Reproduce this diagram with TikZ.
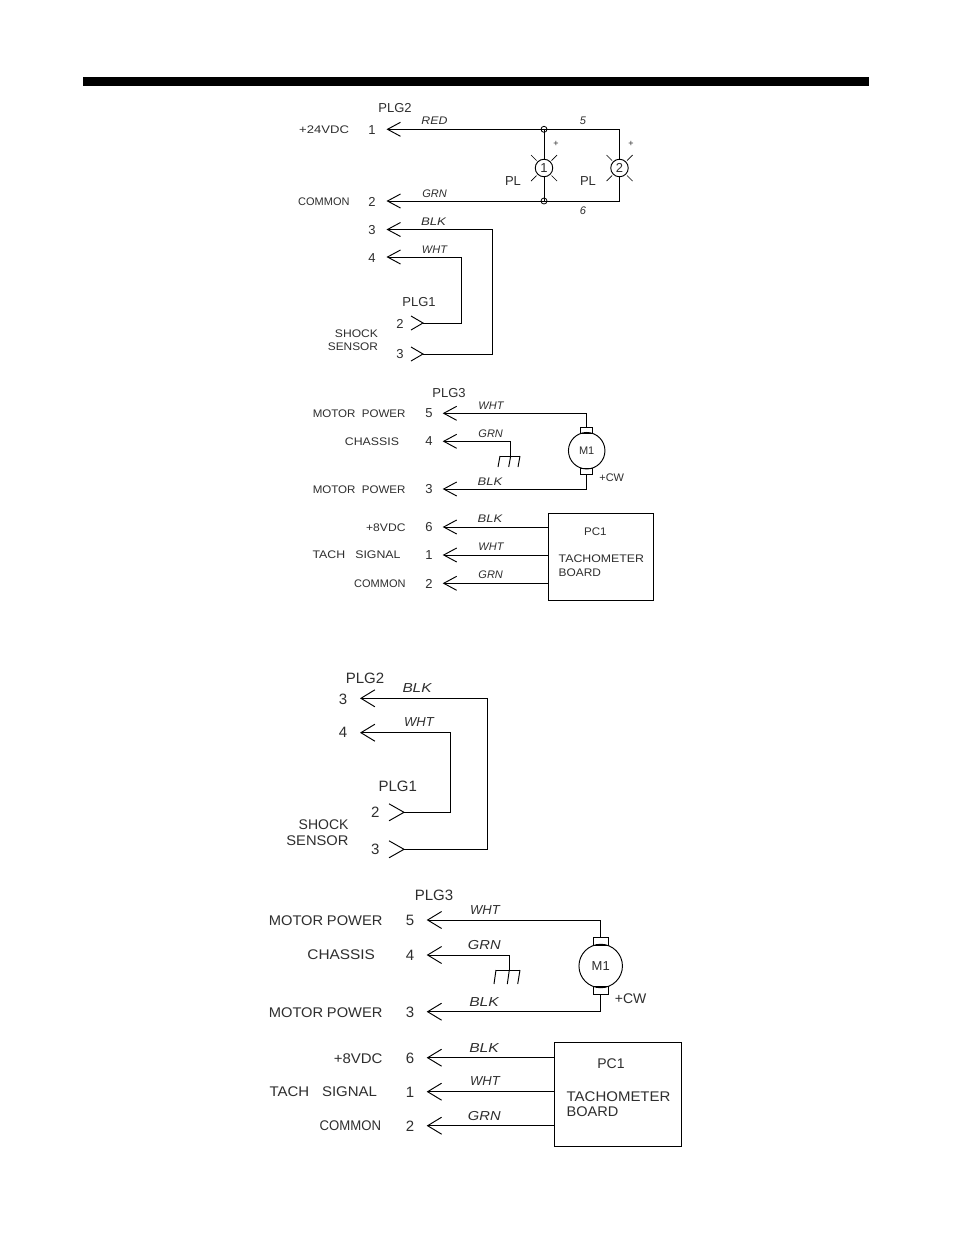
\documentclass[tikz,border=0pt]{standalone}
\usepackage{fontspec}
\usepackage{graphicx}
\setmainfont{Liberation Sans}
\usetikzlibrary{arrows.meta}
\newcommand{\sxw}[2]{\scalebox{#1}[1]{#2}}
\tikzset{
  wire/.style={line width=0.95pt,line join=miter},
  arr/.style={wire,-{Straight Barb[length=13pt,width=14pt,line width=0.95pt]}},
  arrb/.style={wire,-{Straight Barb[length=14pt,width=17pt,line width=0.95pt]}},
  txt/.style={inner sep=0pt,outer sep=0pt,text=black!82,font=\fontsize{#1}{#1}\selectfont},
  txt/.default=11,
  itx/.style={inner sep=0pt,outer sep=0pt,text=black!82,font=\fontsize{#1}{#1}\selectfont\itshape},
  itx/.default=11,
  dotj/.style={circle,draw,line width=0.8pt,minimum size=6pt,inner sep=0pt},
  lamp/.style={circle,draw,line width=0.95pt,minimum size=17.5pt,inner sep=0pt,text=black!82,font=\fontsize{13}{13}\selectfont},
  ray/.style={line width=0.7pt},
  brush/.style={rectangle,draw,line width=0.95pt,inner sep=0pt},
  motor/.style={circle,draw,line width=0.95pt,inner sep=0pt,text=black!82},
  board/.style={rectangle,draw,line width=0.95pt,inner sep=0pt},
  bar/.style={rectangle,fill=black,inner sep=0pt},
}
\begin{document}
\begin{tikzpicture}[x=1pt,y=-1pt]
\useasboundingbox (0,0) rectangle (954,1235);
\fill[white] (0,0) rectangle (954,1235);
\node[bar,anchor=north west,minimum width=786pt,minimum height=8.5pt] (topbar) at (83,77) {};

% ---------- Diagram 1 : lamps and shock sensor (small) ----------
\coordinate (a1) at (386.5,129.3);
\coordinate (a2) at (386.5,201);
\coordinate (a3) at (386.5,229.5);
\coordinate (a4) at (386.5,257);
\coordinate (c1) at (619.5,129.3);
\coordinate (c2) at (619.5,201);
\node[dotj] (j1) at (544,129.3) {};
\node[dotj] (j2) at (544,201) {};
\node[lamp] (L1) at (544,168) {1};
\node[lamp] (L2) at (619.5,168) {2};
\draw[arr] (j1.center) -- (a1);
\draw[arr] (j2.center) -- (a2);
\draw[wire] (j1.center) -- (c1) -- (L2) (L2) -- (c2) -- (j2.center);
\draw[wire] (j1.center) -- (L1) (L1) -- (j2.center);
\foreach \n in {L1,L2}{
  \draw[ray] (\n)+(-7.5,-7.5) -- +(-13,-13);
  \draw[ray] (\n)+(7.5,-7.5) -- +(13,-13);
  \draw[ray] (\n)+(-7.5,7.5) -- +(-13,13);
  \draw[ray] (\n)+(7.5,7.5) -- +(13,13);
}
\coordinate (p2a) at (423,323);
\coordinate (p3a) at (423,354);
\coordinate (k4) at (461.7,257);
\coordinate (k4b) at (461.7,323);
\coordinate (k3) at (492.5,229.5);
\coordinate (k3b) at (492.5,354);
\draw[arr] (p2a) -- (k4b) -- (k4) -- (a4);
\draw[arr] (p3a) -- (k3b) -- (k3) -- (a3);
\draw[wire] (p2a)+(-12,-7) -- (p2a) -- +(-12,7);
\draw[wire] (p3a)+(-12,-7) -- (p3a) -- +(-12,7);
\node[txt=13] (t1) at (395,108) {PLG2};
\node[txt=11,anchor=east] (t2) at (349,130) {\sxw{1.19}{+24VDC}};
\node[txt=13] (t3) at (372,130) {1};
\node[txt=11,anchor=east] (t4) at (349.5,202) {COMMON};
\node[txt=13] (t5) at (372,202) {2};
\node[txt=13] (t6) at (372,230) {3};
\node[txt=13] (t7) at (372,258) {4};
\node[txt=13] (t8) at (419,302) {PLG1};
\node[txt=13] (t9) at (400,324) {2};
\node[txt=13] (t10) at (400,354) {3};
\node[txt=11,anchor=east] (t11) at (378,334) {\sxw{1.1}{SHOCK}};
\node[txt=11,anchor=east] (t12) at (378,347) {\sxw{1.08}{SENSOR}};
\node[txt=13] (t13) at (513,181) {PL};
\node[txt=13] (t14) at (588,181) {PL};
\node[txt=9] (t15) at (556,144) {+};
\node[txt=9] (t16) at (631,144) {+};
\node[itx=11] (t17) at (583,121) {5};
\node[itx=11] (t18) at (583,210.7) {6};
\node[itx=11] (t19) at (434.5,121) {\sxw{1.12}{RED}};
\node[itx=11] (t20) at (434.5,193.7) {GRN};
\node[itx=11] (t21) at (433.5,221.7) {\sxw{1.2}{BLK}};
\node[itx=11] (t22) at (434.5,250) {WHT};

% ---------- Diagram 2 : motor and tachometer (small) ----------
\coordinate (b5) at (442.7,413.3);
\coordinate (b4) at (442.7,441.3);
\coordinate (b3) at (442.7,489);
\coordinate (b6) at (442.7,527);
\coordinate (b1) at (442.7,555);
\coordinate (b2) at (442.7,583.3);
\node[motor,minimum size=36.5pt,font=\fontsize{11}{11}\selectfont] (M) at (586.7,450.7) {M1};
\node[brush,minimum width=11.5pt,minimum height=5.5pt] (Bt) at (586.7,430.3) {};
\node[brush,minimum width=11.5pt,minimum height=6pt] (Bb) at (586.7,471.3) {};
\draw[wire] (Bt) -- (M) (M) -- (Bb);
\coordinate (m5) at (586.7,413.3);
\coordinate (m3) at (586.7,489);
\draw[arr] (Bt) -- (m5) -- (b5);
\draw[arr] (Bb) -- (m3) -- (b3);
\coordinate (g4) at (510.7,441.3);
\coordinate (g) at (510.7,456);
\draw[arr] (g) -- (g4) -- (b4);
\draw[wire] (500,456) -- (520,456);
\draw[wire] (500,456) -- (498,467) (g) -- (508.7,467) (520,456) -- (518,467);
\node[board,anchor=north west,minimum width=105pt,minimum height=86.7pt] (pc) at (547.7,513.3) {};
\draw[arr] (pc.west |- b6) -- (b6);
\draw[arr] (pc.west |- b1) -- (b1);
\draw[arr] (pc.west |- b2) -- (b2);
\node[txt=13] (u1) at (449,392.7) {PLG3};
\node[txt=11,anchor=east] (u2) at (405.5,413.5) {\sxw{1.05}{MOTOR\hspace{6pt}POWER}};
\node[txt=11,anchor=east] (u3) at (399,441.5) {\sxw{1.12}{CHASSIS}};
\node[txt=11,anchor=east] (u4) at (405.5,489.5) {\sxw{1.05}{MOTOR\hspace{6pt}POWER}};
\node[txt=11,anchor=east] (u5) at (405.5,527.5) {\sxw{1.1}{+8VDC}};
\node[txt=11,anchor=east] (u6) at (400.5,555) {\sxw{1.12}{TACH\hspace{9pt}SIGNAL}};
\node[txt=11,anchor=east] (u7) at (405.5,583.7) {COMMON};
\node[txt=13] (u8) at (429,413.5) {5};
\node[txt=13] (u9) at (429,441.5) {4};
\node[txt=13] (u10) at (429,489.5) {3};
\node[txt=13] (u11) at (429,527.5) {6};
\node[txt=13] (u12) at (429,555.5) {1};
\node[txt=13] (u13) at (429,584) {2};
\node[itx=11] (u14) at (491,406) {WHT};
\node[itx=11] (u15) at (490.7,434) {GRN};
\node[itx=11] (u16) at (490,481.7) {\sxw{1.18}{BLK}};
\node[itx=11] (u17) at (490,519) {\sxw{1.18}{BLK}};
\node[itx=11] (u18) at (491,546.7) {WHT};
\node[itx=11] (u19) at (490.7,575) {GRN};
\node[txt=11] (u20) at (611.7,477.3) {+CW};
\node[txt=11] (u21) at (595.3,531.7) {\sxw{1.05}{PC1}};
\node[txt=11,anchor=west] (u22) at (558.7,559) {\sxw{1.12}{TACHOMETER}};
\node[txt=11,anchor=west] (u23) at (558.7,572.7) {\sxw{1.08}{BOARD}};

% ---------- Diagram 3 : shock sensor (large) ----------
\coordinate (d3) at (360,698.3);
\coordinate (d4) at (360,732.7);
\coordinate (q2) at (404,812.3);
\coordinate (q3) at (404,849.3);
\coordinate (e4) at (450.3,732.7);
\coordinate (e4b) at (450.3,812.3);
\coordinate (e3) at (487.3,698.3);
\coordinate (e3b) at (487.3,849.3);
\draw[arrb] (q2) -- (e4b) -- (e4) -- (d4);
\draw[arrb] (q3) -- (e3b) -- (e3) -- (d3);
\draw[wire] (q2)+(-15,-8.5) -- (q2) -- +(-15,8.5);
\draw[wire] (q3)+(-15,-8.5) -- (q3) -- +(-15,8.5);
\node[txt=15] (v1) at (365,678) {PLG2};
\node[txt=15] (v2) at (343,699.3) {3};
\node[txt=15] (v3) at (343,732.7) {4};
\node[itx=13] (v4) at (417,688.3) {\sxw{1.18}{BLK}};
\node[itx=13] (v5) at (419,722.3) {WHT};
\node[txt=15] (v6) at (397.7,786) {PLG1};
\node[txt=15] (v7) at (375.3,812.7) {2};
\node[txt=15] (v8) at (375.3,849.3) {3};
\node[txt=14,anchor=east] (v9) at (348.5,825) {SHOCK};
\node[txt=14,anchor=east] (v10) at (348.5,840.3) {\sxw{1.05}{SENSOR}};

% ---------- Diagram 4 : motor and tachometer (large) ----------
\coordinate (f5) at (426.7,920);
\coordinate (f4) at (426.7,955);
\coordinate (f3) at (426.7,1011.7);
\coordinate (f6) at (426.7,1057.7);
\coordinate (f1) at (426.7,1091.7);
\coordinate (f2) at (426.7,1125.7);
\node[motor,minimum size=43.5pt,font=\fontsize{13}{13}\selectfont] (MM) at (600.7,966) {M1};
\node[brush,minimum width=15pt,minimum height=7.7pt] (Ct) at (600.7,941.2) {};
\node[brush,minimum width=15pt,minimum height=7.7pt] (Cb) at (600.7,990.5) {};
\draw[wire] (Ct) -- (MM) (MM) -- (Cb);
\coordinate (n5) at (600.7,920);
\coordinate (n3) at (600.7,1011.7);
\draw[arrb] (Ct) -- (n5) -- (f5);
\draw[arrb] (Cb) -- (n3) -- (f3);
\coordinate (h4) at (509.3,955);
\coordinate (h) at (509.3,970);
\draw[arrb] (h) -- (h4) -- (f4);
\draw[wire] (496,970) -- (520,970);
\draw[wire] (496,970) -- (494,984) (h) -- (507.3,984) (520,970) -- (517.7,984);
\node[board,anchor=north west,minimum width=126.4pt,minimum height=104pt] (pcc) at (554.3,1041.7) {};
\draw[arrb] (pcc.west |- f6) -- (f6);
\draw[arrb] (pcc.west |- f1) -- (f1);
\draw[arrb] (pcc.west |- f2) -- (f2);
\node[txt=15] (w1) at (434,895) {PLG3};
\node[txt=14,anchor=east] (w2) at (382.5,920.7) {\sxw{1.05}{MOTOR\hspace{3.5pt}POWER}};
\node[txt=14,anchor=east] (w3) at (375,955) {\sxw{1.1}{CHASSIS}};
\node[txt=14,anchor=east] (w4) at (382.5,1012.7) {\sxw{1.05}{MOTOR\hspace{3.5pt}POWER}};
\node[txt=14,anchor=east] (w5) at (382.5,1058.7) {\sxw{1.07}{+8VDC}};
\node[txt=14,anchor=east] (w6) at (377,1091.7) {\sxw{1.07}{TACH\hspace{12pt}SIGNAL}};
\node[txt=14,anchor=east] (w7) at (381,1126) {\sxw{0.94}{COMMON}};
\node[txt=15] (w8) at (410,920.5) {5};
\node[txt=15] (w9) at (410,955) {4};
\node[txt=15] (w10) at (410,1012.5) {3};
\node[txt=15] (w11) at (410,1058.5) {6};
\node[txt=15] (w12) at (410,1092) {1};
\node[txt=15] (w13) at (410,1126) {2};
\node[itx=13] (w14) at (485,910) {WHT};
\node[itx=13] (w15) at (484.3,945) {\sxw{1.13}{GRN}};
\node[itx=13] (w16) at (484,1002.3) {\sxw{1.2}{BLK}};
\node[itx=13] (w17) at (484,1047.7) {\sxw{1.2}{BLK}};
\node[itx=13] (w18) at (485,1081) {WHT};
\node[itx=13] (w19) at (484.3,1115.7) {\sxw{1.13}{GRN}};
\node[txt=14] (w20) at (630.7,998.3) {+CW};
\node[txt=14] (w21) at (611,1064) {PC1};
\node[txt=14,anchor=west] (w22) at (566.7,1096.7) {\sxw{1.07}{TACHOMETER}};
\node[txt=14,anchor=west] (w23) at (566.7,1111.7) {\sxw{1.04}{BOARD}};
\end{tikzpicture}
\end{document}
